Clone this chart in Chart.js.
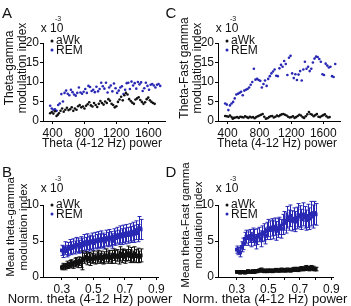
<!DOCTYPE html>
<html>
<head>
<meta charset="utf-8">
<script src="https://cdn.jsdelivr.net/npm/chart.js@4.4.0/dist/chart.umd.min.js"></script>
<style>
  html, body { margin: 0; padding: 0; background: #fff; }
  #wrap { position: relative; width: 351px; height: 306px; overflow: hidden;
          font-family: 'Liberation Sans', Arial, sans-serif; color: #111; }
  canvas { position: absolute; }
  .t { position: absolute; white-space: nowrap; line-height: 1; font-size: 12px;
       transform: translate(-50%, -50%); }
  .l { position: absolute; white-space: nowrap; line-height: 1; font-size: 12px;
       transform: translateY(-50%); }
  .rot { position: absolute; white-space: nowrap; font-size: 12px; line-height: 13px;
         text-align: center; transform: translate(-50%, -50%) rotate(-90deg); }
  .rot.sm { font-size: 11.5px; line-height: 12.5px; }
  .xt { font-size: 13px; }
  .let { font-size: 15px; }
  .sup { font-size: 7px; }
  .dot { position: absolute; width: 3px; height: 3px; border-radius: 50%;
         transform: translate(-50%, -50%); }
</style>
</head>
<body>
<div id="wrap">
  <canvas id="chartA" width="175" height="153" style="left:0;top:0"></canvas>
  <canvas id="chartC" width="175" height="153" style="left:175px;top:0"></canvas>
  <canvas id="chartB" width="175" height="153" style="left:0;top:153px"></canvas>
  <canvas id="chartD" width="175" height="153" style="left:175px;top:153px"></canvas>

  <!-- panel A -->
  <div class="t let" style="left:7px;top:12px">A</div>
  <div class="t" style="left:52px;top:28px">x 10</div>
  <div class="t sup" style="left:58px;top:18px">-3</div>
  <div class="rot" style="left:16px;top:68px">Theta-gamma<br>modulation index</div>
  <div class="t" style="left:102px;top:143px">Theta (4-12 Hz) power</div>
  <div class="dot" style="left:52px;top:41px;background:#111"></div>
  <div class="l" style="left:56px;top:40px">aWk</div>
  <div class="dot" style="left:52px;top:50px;background:#2828b4"></div>
  <div class="l" style="left:56px;top:50px">REM</div>

  <!-- panel C -->
  <div class="t let" style="left:171px;top:12px">C</div>
  <div class="t" style="left:227px;top:28px">x 10</div>
  <div class="t sup" style="left:233px;top:18px">-3</div>
  <div class="rot" style="left:191px;top:68px">Theta-Fast gamma<br>modulation index</div>
  <div class="t" style="left:277px;top:143px">Theta (4-12 Hz) power</div>
  <div class="dot" style="left:227px;top:41px;background:#111"></div>
  <div class="l" style="left:231px;top:40px">aWk</div>
  <div class="dot" style="left:227px;top:50px;background:#2828b4"></div>
  <div class="l" style="left:231px;top:50px">REM</div>

  <!-- panel B -->
  <div class="t let" style="left:7px;top:171px">B</div>
  <div class="t" style="left:52px;top:188px">x 10</div>
  <div class="t sup" style="left:58px;top:178px">-3</div>
  <div class="rot sm" style="left:16px;top:227px">Mean theta-gamma<br>modulation index</div>
  <div class="t xt" style="left:90px;top:298px">Norm. theta (4-12 Hz) power</div>
  <div class="dot" style="left:52px;top:205px;background:#111"></div>
  <div class="l" style="left:56px;top:204px">aWk</div>
  <div class="dot" style="left:52px;top:214px;background:#2828b4"></div>
  <div class="l" style="left:56px;top:214px">REM</div>

  <!-- panel D -->
  <div class="t let" style="left:171px;top:171px">D</div>
  <div class="t" style="left:227px;top:188px">x 10</div>
  <div class="t sup" style="left:233px;top:178px">-3</div>
  <div class="rot sm" style="left:191px;top:225px">Mean theta-Fast gamma<br>modulation index</div>
  <div class="t xt" style="left:265px;top:298px">Norm. theta (4-12 Hz) power</div>
  <div class="dot" style="left:227px;top:205px;background:#111"></div>
  <div class="l" style="left:231px;top:204px">aWk</div>
  <div class="dot" style="left:227px;top:214px;background:#2828b4"></div>
  <div class="l" style="left:231px;top:214px">REM</div>
</div>

<script>
// ---- data (modulation index values are x 10^-3) ----
const powerAwk = [370,390,410,430,450,465,480,500,520,540,560,580,600,620,640,660,680,700,720,740,
  760,780,800,820,840,860,880,900,920,940,960,980,1000,1020,1040,1060,1080,1100,1120,1140,
  1160,1180,1200,1220,1240,1260,1280,1300,1320,1340,1360,1380,1400,1420,1440,1460,1480,1500,1520,1540,
  1560,1580,1600,1620,1640,1660,1680];
const powerRem = [370,390,410,430,450,470,490,510,530,550,570,590,610,630,650,670,690,710,730,750,
  770,790,810,830,850,870,890,910,930,950,970,990,1010,1030,1050,1070,1090,1110,1130,1150,
  1170,1190,1210,1230,1250,1270,1290,1310,1330,1350,1370,1390,1410,1430,1450,1470,1490,1510,1530,1550,
  1570,1590,1610,1630,1650,1670,1690,1710,1730,1750];

const gammaAwk = [2.0,2.3,1.9,2.5,1.3,1.6,2.0,2.6,3.2,2.4,2.9,3.4,2.8,3.0,3.5,2.6,3.2,2.9,3.8,4.1,
  3.5,3.7,3.2,3.9,4.3,4.8,4.0,3.7,4.6,4.1,3.6,4.4,5.1,4.6,4.2,5.0,4.6,5.6,5.2,4.4,
  4.1,3.5,3.8,4.9,5.5,6.2,5.3,6.6,7.2,6.8,5.6,5.1,4.7,4.4,5.5,5.8,6.1,5.4,4.9,4.4,
  4.8,5.6,6.0,5.3,4.9,4.6,4.4];
const gammaRem = [3.9,3.2,2.9,3.0,2.6,4.1,4.5,6.9,5.0,7.2,7.8,7.0,6.6,8.0,7.4,6.8,6.5,7.2,8.6,7.3,
  7.0,7.5,8.2,7.2,9.0,8.7,7.7,8.0,7.4,8.8,7.6,8.2,9.8,8.9,8.3,9.8,7.3,8.6,9.1,7.6,
  9.6,8.4,7.2,7.8,8.6,8.9,6.9,8.0,9.7,9.8,8.2,10.1,9.1,9.7,8.3,10.0,9.4,9.9,7.7,8.4,
  9.8,9.0,8.0,9.3,9.5,9.1,8.6,9.3,9.5,9.0];

const fastAwk = [1.3,1.2,1.1,1.4,1.0,0.6,0.8,0.9,1.0,0.8,1.1,1.0,0.9,1.2,1.0,0.8,1.1,0.9,1.0,0.7,
  1.0,1.2,1.4,1.6,1.8,1.1,0.6,0.7,1.0,1.2,1.3,0.9,1.1,1.4,1.2,1.5,1.7,1.8,1.6,1.4,
  1.1,0.9,1.0,1.2,0.8,1.0,1.3,1.6,1.4,1.0,0.8,1.2,1.7,2.3,1.8,1.6,1.2,1.5,1.8,1.1,
  1.0,1.3,1.5,1.7,1.2,0.9,1.0];
const fastRem = [4.5,4.2,2.8,4.0,4.5,4.9,5.8,6.8,7.0,7.2,7.5,6.6,7.8,8.0,8.2,8.6,9.3,10.0,13.4,10.6,
  10.8,10.5,10.3,8.6,9.5,10.4,9.0,10.8,11.5,12.2,12.7,13.2,11.6,11.5,13.5,14.4,13.9,15.4,14.6,11.8,
  16.2,16.7,12.2,11.0,12.0,10.5,11.9,12.8,10.4,13.2,15.2,13.4,13.9,12.8,13.4,15.0,16.0,16.5,16.4,15.9,
  15.2,12.0,11.8,14.7,14.2,13.7,13.9,11.5,11.3,14.6];

const normTheta = [0.30,0.31,0.32,0.33,0.34,0.35,0.36,0.37,0.38,0.39,0.40,0.41,0.42,0.43,0.44,0.45,0.46,
  0.47,0.48,0.49,0.50,0.51,0.52,0.53,0.54,0.55,0.56,0.57,0.58,0.59,0.60,0.61,0.62,0.63,0.64,0.65,
  0.66,0.67,0.68,0.69,0.70,0.71,0.72,0.73,0.74,0.75,0.76,0.77,0.78,0.79,0.80];

const meanGammaAwk = [1.3,1.5,1.4,1.7,1.6,1.8,1.9,1.7,2.0,2.1,1.9,2.2,2.0,2.3,2.6,2.8,2.5,2.7,2.4,2.6,
  2.8,2.5,2.7,2.9,2.6,2.8,2.5,2.7,3.0,2.7,2.9,2.6,2.8,3.1,2.8,3.0,2.7,3.2,2.9,3.1,
  2.8,3.0,3.3,2.9,3.1,2.8,3.2,2.9,3.0,2.8,3.0];
const errGammaAwk = [0.3,0.4,0.4,0.5,0.4,0.5,0.5,0.5,0.6,0.6,0.6,0.6,0.7,1.3,0.7,0.7,0.8,0.7,0.8,0.7,
  0.8,0.7,0.8,0.8,0.7,0.8,0.7,0.8,0.9,0.8,0.8,0.7,0.9,0.8,0.9,0.8,0.9,1.0,0.9,0.8,
  0.9,0.8,1.0,0.9,1.0,0.8,1.0,0.9,1.0,0.8,0.9];
const meanGammaRem = [3.7,3.5,4.0,3.6,3.9,4.2,4.0,4.3,4.1,4.5,4.4,4.2,4.6,4.4,4.8,4.5,4.9,4.6,4.8,5.0,
  4.7,5.1,4.9,5.2,5.0,5.3,5.1,4.9,5.4,5.2,5.5,5.3,5.0,5.6,5.4,5.8,5.5,5.9,5.6,6.0,
  5.7,6.1,5.8,6.2,5.9,6.3,6.0,6.5,6.1,6.8,6.6];
const errGammaRem = [0.7,0.8,0.9,0.8,0.9,1.0,0.9,1.0,0.9,1.0,1.0,0.9,1.0,1.0,1.1,1.0,1.1,1.0,1.0,1.1,
  1.0,1.1,1.0,1.1,1.0,1.1,1.0,1.0,1.1,1.0,1.1,1.0,1.0,1.1,1.0,1.1,1.0,1.2,1.1,1.2,
  1.1,1.2,1.1,1.2,1.1,1.3,1.2,1.3,1.2,1.6,1.4];

const meanFastAwk = [0.7,0.7,0.6,0.7,0.7,0.6,0.7,0.8,0.7,0.7,0.8,0.7,0.8,0.8,0.9,1.0,0.9,0.8,0.9,0.8,
  0.9,0.9,0.8,0.9,0.9,1.0,0.9,0.9,1.0,0.9,1.0,0.9,1.0,1.0,0.9,1.0,1.1,1.0,1.1,1.0,
  1.1,1.2,1.1,1.2,1.3,1.2,1.1,1.3,1.2,1.1,1.1];
const errFastAwk = [0.15,0.15,0.15,0.15,0.2,0.15,0.2,0.2,0.15,0.2,0.2,0.2,0.2,0.2,0.2,0.25,0.2,0.2,0.2,0.2,
  0.2,0.2,0.2,0.2,0.2,0.2,0.2,0.2,0.25,0.2,0.2,0.2,0.25,0.2,0.2,0.25,0.25,0.2,0.25,0.25,
  0.25,0.25,0.25,0.3,0.3,0.25,0.25,0.3,0.3,0.25,0.25];
const meanFastRem = [3.8,3.6,3.4,4.2,4.6,5.3,5.6,5.4,5.7,5.2,5.8,5.5,4.9,5.6,5.9,5.3,6.0,6.2,5.7,6.4,
  6.8,6.5,6.9,6.6,7.0,6.4,6.8,7.1,6.7,7.3,7.8,7.5,8.3,7.9,8.5,7.8,8.1,7.7,8.2,8.6,
  8.4,8.0,8.7,8.3,7.9,8.5,8.1,8.8,8.4,8.9,8.7];
const errFastRem = [0.5,0.5,0.6,0.7,0.8,0.9,0.9,1.0,0.9,1.0,1.0,1.1,1.0,1.1,1.0,1.1,1.1,1.2,1.1,1.2,
  1.2,1.3,1.2,1.3,1.2,1.3,1.3,1.2,1.3,1.4,1.3,1.4,1.5,1.4,1.5,1.4,1.5,1.4,1.5,1.6,
  1.5,1.4,1.6,1.5,1.4,1.6,1.5,1.7,1.6,1.6,1.5];

const powerTicks = [400, 800, 1200, 1600];
const normTicks = [0.3, 0.4, 0.5, 0.6, 0.7, 0.8, 0.9];
const normLabels = [0.3, 0.5, 0.7, 0.9];
const miTicksTop = [0, 5, 10, 15, 20];
const miTicksBottom = [0, 5, 10];

const BLACK = '#111111';
const BLUE = '#2828b4';
const FONT = "'Liberation Sans', Arial, sans-serif";

// error bars drawn right after their dataset, through the chart scales
const errorBars = {
    id: 'errorBars',
    afterDatasetDraw(chart, args) {
        const ds = chart.data.datasets[args.index];
        if (!ds.errors) return;
        const ctx = chart.ctx;
        const x = chart.scales.x;
        const y = chart.scales.y;
        ctx.save();
        ctx.strokeStyle = ds.borderColor;
        ctx.lineWidth = 1;
        ds.data.forEach((p, i) => {
            const px = Math.round(x.getPixelForValue(p.x)) + 0.5;
            const top = y.getPixelForValue(p.y + ds.errors[i]);
            const bot = y.getPixelForValue(p.y - ds.errors[i]);
            ctx.beginPath();
            ctx.moveTo(px, top);
            ctx.lineTo(px, bot);
            ctx.moveTo(px - 2, top);
            ctx.lineTo(px + 2, top);
            ctx.moveTo(px - 2, bot);
            ctx.lineTo(px + 2, bot);
            ctx.stroke();
        });
        ctx.restore();
    }
};

function pts(xs, ys) {
    return xs.map((v, i) => ({x: v, y: ys[i]}));
}

function scatterSet(xs, ys, color) {
    return {
        data: pts(xs, ys),
        backgroundColor: color,
        borderColor: color,
        borderWidth: 0,
        pointRadius: 1.3,
        showLine: false
    };
}

function meanSet(xs, ys, errs, color) {
    return {
        data: pts(xs, ys),
        errors: errs,
        backgroundColor: color,
        borderColor: color,
        borderWidth: 1.2,
        pointStyle: 'rect',
        pointRadius: 1.8,
        showLine: true
    };
}

function panel(id, o) {
    const ctx = document.getElementById(id).getContext('2d');
    return new Chart(ctx, {
        type: 'scatter',
        data: {datasets: o.datasets},
        options: {
            responsive: false,
            animation: false,
            events: [],
            layout: {padding: {left: 0, top: o.top, right: o.right, bottom: 0}},
            plugins: {legend: {display: false}, tooltip: {enabled: false}},
            scales: {
                x: {
                    type: 'linear',
                    min: o.xMin,
                    max: o.xMax,
                    afterBuildTicks: (s) => { s.ticks = o.xTicks.map(v => ({value: v})); },
                    afterFit: (s) => { s.height = o.xHeight; },
                    grid: {drawOnChartArea: false, drawTicks: true, tickLength: 3, color: '#000'},
                    border: {display: true, color: '#000', width: 1},
                    ticks: {
                        color: BLACK,
                        font: {family: FONT, size: 12},
                        padding: 2,
                        maxRotation: 0,
                        autoSkip: false,
                        callback: (v) => o.xLabels.includes(v) ? String(v) : ''
                    }
                },
                y: {
                    type: 'linear',
                    min: 0,
                    max: o.yMax,
                    afterBuildTicks: (s) => { s.ticks = o.yTicks.map(v => ({value: v})); },
                    afterFit: (s) => { s.width = 43; },
                    grid: {drawOnChartArea: false, drawTicks: true, tickLength: 3, color: '#000'},
                    border: {display: true, color: '#000', width: 1},
                    ticks: {
                        color: BLACK,
                        font: {family: FONT, size: 12},
                        padding: 1,
                        callback: (v) => String(v)
                    }
                }
            }
        },
        plugins: [errorBars]
    });
}

const topPanel = {top: 43, right: 10, xHeight: 32, xMin: 280, xMax: 1810,
    xTicks: powerTicks, xLabels: powerTicks, yMax: 20, yTicks: miTicksTop};
const bottomPanel = {top: 52, right: 17, xHeight: 29, xMin: 0.18, xMax: 0.91,
    xTicks: normTicks, xLabels: normLabels, yMax: 10, yTicks: miTicksBottom};

panel('chartA', Object.assign({}, topPanel, {datasets: [
    scatterSet(powerAwk, gammaAwk, BLACK),
    scatterSet(powerRem, gammaRem, BLUE)
]}));
panel('chartC', Object.assign({}, topPanel, {datasets: [
    scatterSet(powerAwk, fastAwk, BLACK),
    scatterSet(powerRem, fastRem, BLUE)
]}));
panel('chartB', Object.assign({}, bottomPanel, {datasets: [
    meanSet(normTheta, meanGammaAwk, errGammaAwk, BLACK),
    meanSet(normTheta, meanGammaRem, errGammaRem, BLUE)
]}));
panel('chartD', Object.assign({}, bottomPanel, {datasets: [
    meanSet(normTheta, meanFastAwk, errFastAwk, BLACK),
    meanSet(normTheta, meanFastRem, errFastRem, BLUE)
]}));
</script>
</body>
</html>
